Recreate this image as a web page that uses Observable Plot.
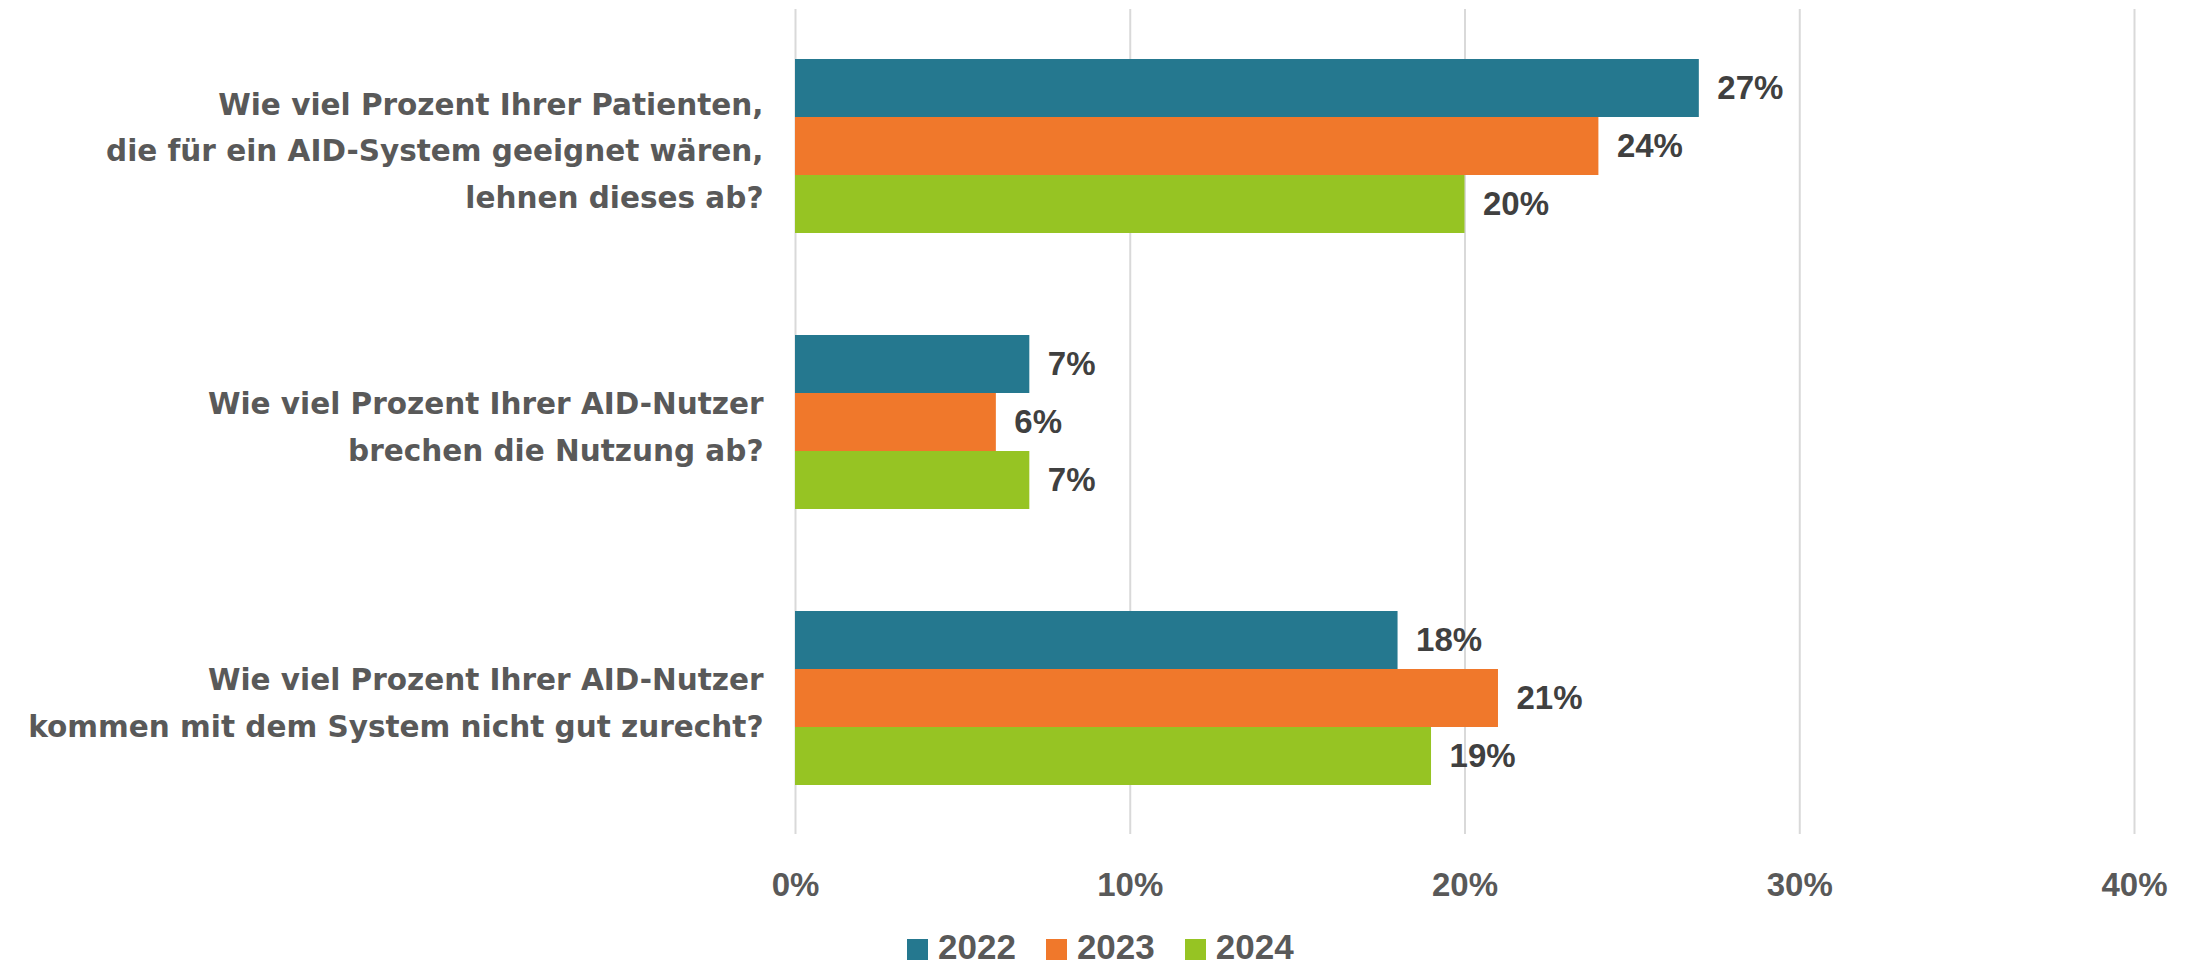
<!DOCTYPE html>
<html><head><meta charset="utf-8">
<script src="https://cdn.jsdelivr.net/npm/d3@7"></script>
<script src="https://cdn.jsdelivr.net/npm/@observablehq/plot@0.6"></script>
<style>
html,body{margin:0;padding:0;background:#fff;overflow:hidden;}
#chart svg{display:block}
.legend{display:flex;align-items:center;height:35px;margin-top:0;padding-left:907px;font-family:"Liberation Sans",Arial,sans-serif;font-weight:bold;font-size:35px;line-height:35px;color:#595959}
.legend .item{display:flex;align-items:center;margin-right:30px}
.legend .sw{width:21px;height:21px;margin-right:10px;position:relative;top:3px}
</style></head><body>
<div id="chart"></div>
<div class="legend" id="legend"></div>
<script>
const categories = [
  "Wie viel Prozent Ihrer Patienten,\ndie für ein AID-System geeignet wären,\nlehnen dieses ab?",
  "Wie viel Prozent Ihrer AID-Nutzer\nbrechen die Nutzung ab?",
  "Wie viel Prozent Ihrer AID-Nutzer\nkommen mit dem System nicht gut zurecht?"
];
const years = ["2022", "2023", "2024"];
const values2022 = [0.27, 0.07, 0.18];
const values2023 = [0.24, 0.06, 0.21];
const values2024 = [0.20, 0.07, 0.19];
const colors = ["#25788F", "#F0782B", "#96C423"];
const xTicks = [0, 0.1, 0.2, 0.3, 0.4];

const series = [values2022, values2023, values2024];
const data = years.map((yr, i) => categories.map((c, j) => ({category: c, year: yr, value: series[i][j]})));
const barH = 58;

const plot = Plot.plot({
  width: 2187,
  height: 929,
  marginLeft: 795,
  marginRight: 53,
  marginTop: 9,
  marginBottom: 95,
  style: {background: "white", color: "#595959", overflow: "visible"},
  x: {domain: [0, 0.4]},
  y: {type: "band", domain: categories, paddingInner: 0.371, paddingOuter: 0.177},
  marks: [
    Plot.gridX(xTicks, {stroke: "#D9D9D9", strokeOpacity: 1, strokeWidth: 2}),
    ...data.map((d, i) => Plot.barX(d, {x: "value", y: "category", fill: colors[i], insetTop: i * barH, insetBottom: (2 - i) * barH})),
    ...data.map((d, i) => Plot.text(d, {
      x: "value", y: "category", text: d => Math.round(d.value * 100) + "%",
      dx: 18, dy: (i - 1) * barH, textAnchor: "start", fill: "#404040",
      fontSize: 33, fontWeight: "bold", fontFamily: "Liberation Sans, Arial, sans-serif"
    })),
    Plot.axisY({tickSize: 0, tickPadding: 32, label: null, fontSize: 29.5, fontWeight: "bold",
      fontFamily: "DejaVu Sans, sans-serif", lineHeight: 1.58}),
    Plot.axisX({ticks: xTicks, tickFormat: d3.format(".0%"), tickSize: 0, tickPadding: 38, label: null,
      fontSize: 33, fontWeight: "bold", fontFamily: "Liberation Sans, Arial, sans-serif"})
  ]
});
document.getElementById("chart").appendChild(plot);

const legend = document.getElementById("legend");
years.forEach((yr, i) => {
  const item = document.createElement("div");
  item.className = "item";
  const sw = document.createElement("span");
  sw.className = "sw";
  sw.style.background = colors[i];
  const t = document.createElement("span");
  t.textContent = yr;
  item.appendChild(sw);
  item.appendChild(t);
  legend.appendChild(item);
});
</script>
</body></html>
